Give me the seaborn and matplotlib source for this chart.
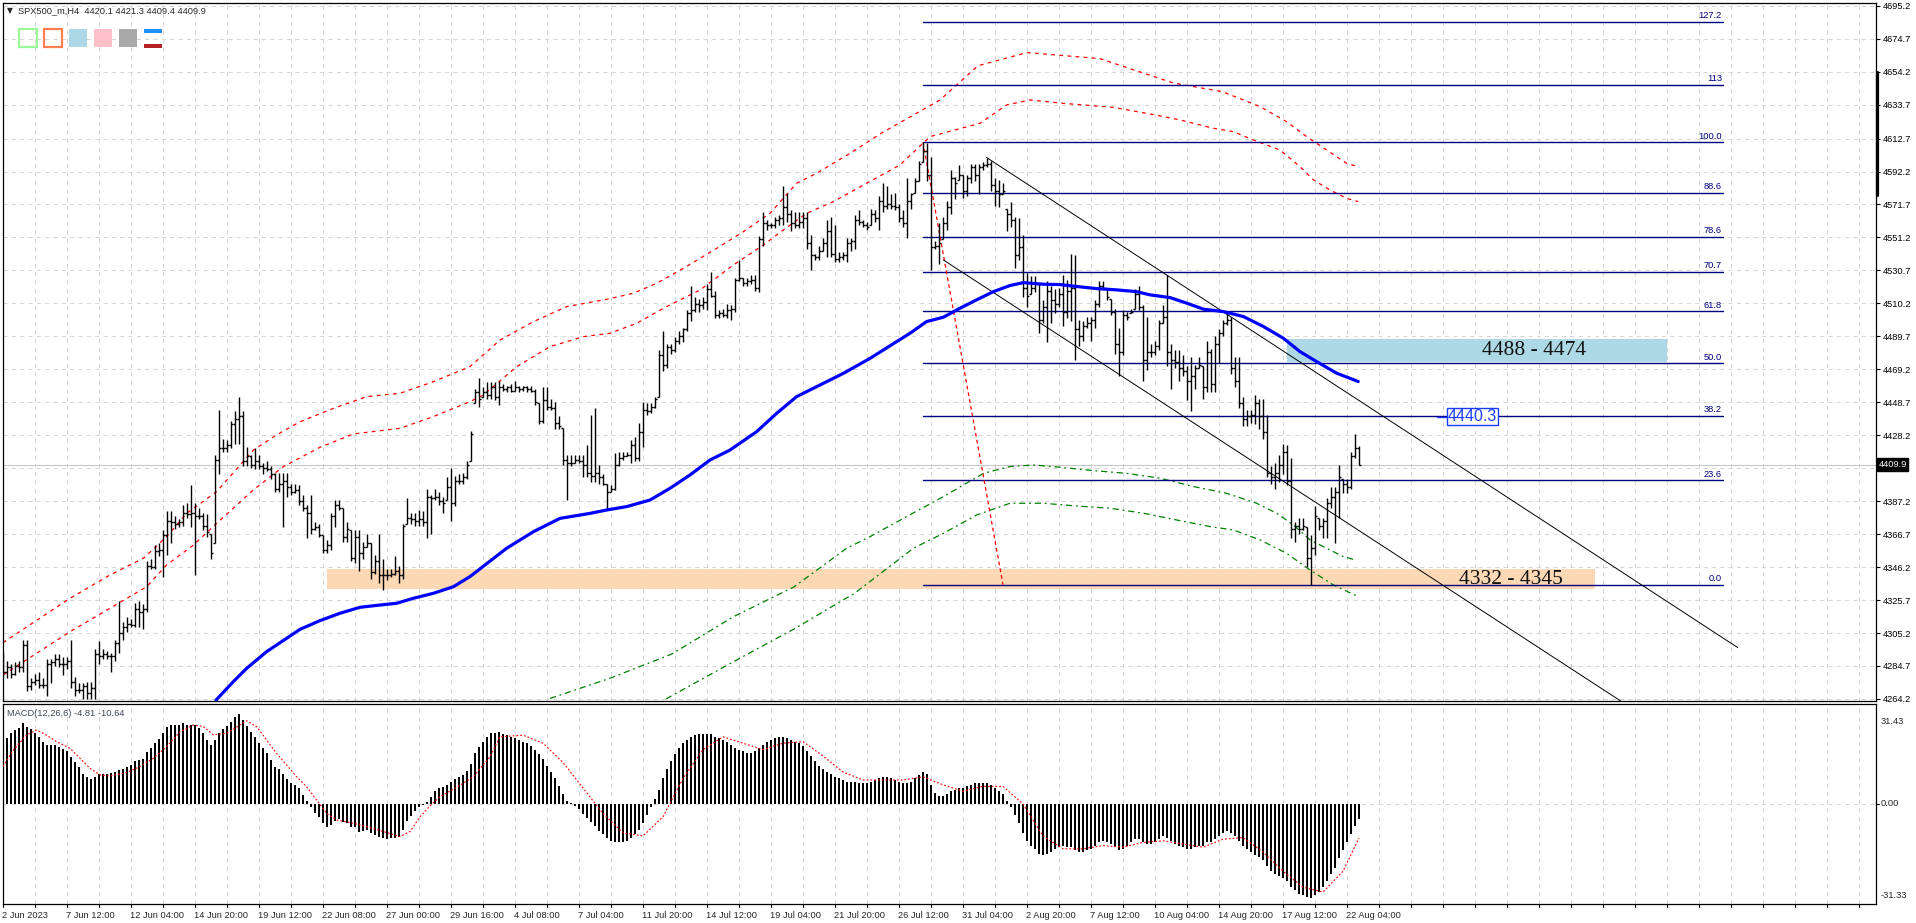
import numpy as np
import matplotlib
matplotlib.use("Agg")
import matplotlib.pyplot as plt
import seaborn as sns
from matplotlib.patches import Rectangle
from matplotlib.lines import Line2D

sns.set_style("white")
plt.rcParams['font.family'] = ['Liberation Sans', 'DejaVu Sans']

# ---------------- data ----------------
SYMBOL_TITLE = "SPX500_m,H4  4420.1 4421.3 4409.4 4409.9"
MACD_TITLE = "MACD(12,26,6) -4.81 -10.64"
CURRENT_PRICE = 4409.9
FIRST_OPEN = 4283

HIGHS = [4293, 4288, 4286, 4287, 4288, 4301, 4301, 4277, 4280, 4281,
 4277, 4289, 4289, 4292, 4292, 4290, 4290, 4301, 4278, 4274,
 4274, 4275, 4275, 4295, 4300, 4295, 4294, 4293, 4301, 4325,
 4312, 4315, 4314, 4324, 4325, 4323, 4350, 4351, 4360, 4361,
 4369, 4381, 4381, 4378, 4376, 4385, 4386, 4397, 4386, 4383,
 4380, 4379, 4367, 4416, 4444, 4426, 4425, 4437, 4443, 4452,
 4443, 4421, 4416, 4420, 4416, 4411, 4412, 4409, 4405, 4405,
 4405, 4405, 4398, 4398, 4397, 4391, 4385, 4391, 4374, 4373,
 4366, 4363, 4380, 4388, 4388, 4383, 4374, 4369, 4369, 4369,
 4362, 4367, 4361, 4354, 4367, 4351, 4345, 4345, 4353, 4347,
 4373, 4389, 4380, 4380, 4382, 4381, 4395, 4391, 4395, 4393,
 4390, 4402, 4408, 4403, 4404, 4405, 4412, 4431, 4457, 4464,
 4458, 4461, 4461, 4461, 4462, 4460, 4459, 4460, 4462, 4459,
 4459, 4459, 4459, 4457, 4448, 4458, 4458, 4451, 4449, 4440,
 4433, 4416, 4416, 4416, 4416, 4416, 4422, 4441, 4445, 4410,
 4404, 4398, 4397, 4417, 4418, 4418, 4418, 4425, 4427, 4436,
 4449, 4448, 4448, 4452, 4481, 4493, 4485, 4485, 4489, 4493,
 4495, 4506, 4521, 4514, 4513, 4514, 4522, 4530, 4518, 4506,
 4507, 4510, 4509, 4526, 4537, 4526, 4526, 4528, 4528, 4552,
 4567, 4562, 4560, 4564, 4565, 4583, 4579, 4568, 4567, 4567,
 4567, 4567, 4553, 4541, 4546, 4551, 4562, 4564, 4559, 4542,
 4542, 4551, 4551, 4565, 4568, 4562, 4561, 4569, 4568, 4577,
 4585, 4583, 4578, 4579, 4572, 4568, 4588, 4579, 4588, 4599,
 4610.5, 4610, 4601, 4549, 4560, 4564, 4574, 4593, 4589, 4596,
 4590, 4590, 4597, 4597, 4597, 4598, 4600.6, 4599, 4588, 4587,
 4585, 4569, 4573, 4564, 4563, 4553, 4529, 4527, 4527, 4522,
 4512, 4524, 4521, 4519, 4520, 4528, 4525, 4541, 4540, 4500,
 4499, 4502, 4502, 4512, 4524, 4524, 4520, 4513, 4507, 4495,
 4506, 4505, 4507, 4519, 4521, 4509, 4502, 4485, 4487, 4500,
 4509, 4528, 4485, 4481, 4481, 4478, 4471, 4477, 4472, 4477,
 4471, 4487, 4482, 4490, 4494, 4500, 4504, 4502, 4477, 4477,
 4452, 4444, 4444, 4453, 4451, 4451, 4441, 4409, 4411, 4416,
 4423, 4422, 4414, 4374, 4377, 4377, 4371, 4366, 4384, 4377,
 4377, 4389, 4396, 4396, 4410, 4401, 4401, 4418, 4429, 4421.3]

LOWS = [4278, 4277, 4277, 4279, 4281, 4281, 4269, 4270, 4273, 4271,
 4271, 4266, 4274, 4285, 4284, 4279, 4283, 4271, 4266, 4268,
 4264, 4264, 4264, 4264, 4286, 4289, 4289, 4281, 4288, 4293,
 4301, 4306, 4309, 4309, 4309, 4308, 4318, 4345, 4345, 4353,
 4340, 4354, 4361, 4370, 4371, 4372, 4377, 4371, 4341, 4376,
 4369, 4365, 4351, 4361, 4404, 4418, 4418, 4420, 4423, 4423,
 4409, 4409, 4408, 4407, 4407, 4404, 4406, 4401, 4393, 4393,
 4371, 4390, 4391, 4392, 4385, 4381, 4364, 4367, 4369, 4365,
 4355, 4355, 4357, 4371, 4382, 4362, 4362, 4350, 4349, 4344,
 4351, 4359, 4339, 4342, 4336, 4332, 4338, 4340, 4341, 4336,
 4339, 4373, 4373, 4372, 4372, 4372, 4364, 4367, 4388, 4385,
 4380, 4388, 4375, 4384, 4398, 4398, 4401, 4412, 4448, 4446,
 4452, 4451, 4451, 4450, 4447, 4456, 4455, 4455, 4456, 4455,
 4456, 4455, 4455, 4447, 4435, 4436, 4444, 4444, 4432, 4432,
 4410, 4388, 4409, 4411, 4411, 4402, 4402, 4399, 4399, 4398,
 4397, 4382, 4393, 4394, 4409, 4413, 4415, 4411, 4412, 4412,
 4421, 4441, 4442, 4445, 4452, 4468, 4470, 4479, 4480, 4485,
 4486, 4493, 4499, 4505, 4505, 4507, 4506, 4514, 4501, 4501,
 4502, 4501, 4500, 4505, 4524, 4521, 4521, 4522, 4518, 4517,
 4546, 4556, 4557, 4557, 4559, 4559, 4561, 4555, 4557, 4557,
 4557, 4544, 4531, 4537, 4537, 4543, 4539, 4539, 4536, 4536,
 4537, 4536, 4543, 4544, 4559, 4558, 4556, 4559, 4561, 4556,
 4567, 4569, 4569, 4568, 4561, 4558, 4551, 4569, 4579, 4586,
 4598, 4586, 4531, 4544, 4535, 4550, 4556, 4566, 4575, 4587,
 4576, 4577, 4585, 4586, 4578, 4593, 4595, 4580, 4571, 4570,
 4578, 4555, 4558, 4532, 4537, 4514, 4508, 4516, 4517, 4492,
 4498, 4486, 4498, 4504, 4508, 4496, 4501, 4499, 4475, 4484,
 4487, 4495, 4487, 4495, 4508, 4519, 4512, 4503, 4479, 4465,
 4478, 4500, 4504, 4507, 4506, 4462, 4469, 4477, 4478, 4481,
 4498, 4471, 4457, 4470, 4462, 4465, 4450, 4443, 4457, 4470,
 4451, 4455, 4455, 4455, 4473, 4490, 4497, 4466, 4458, 4445,
 4434, 4434, 4436, 4435, 4432, 4426, 4402, 4398, 4395, 4399,
 4404, 4397, 4364, 4362, 4367, 4369, 4346, 4335.2, 4354, 4369,
 4364, 4364, 4383, 4361, 4377, 4392, 4392, 4395, 4414, 4409.4]

CLOSES = [4281, 4284, 4280, 4285, 4284, 4298, 4272, 4275, 4276, 4273,
 4273, 4286, 4287, 4289, 4286, 4286, 4288, 4275, 4270, 4270,
 4272, 4268, 4271, 4292, 4291, 4292, 4291, 4291, 4299, 4305,
 4309, 4311, 4310, 4320, 4318, 4320, 4347, 4346, 4356, 4357,
 4366, 4375, 4374, 4373, 4374, 4380, 4379, 4380, 4378, 4378,
 4372, 4368, 4355, 4413, 4420, 4420, 4422, 4435, 4438, 4440,
 4412, 4415, 4410, 4412, 4409, 4408, 4407, 4404, 4395, 4398,
 4400, 4396, 4393, 4394, 4387, 4383, 4380, 4370, 4371, 4366,
 4357, 4360, 4378, 4385, 4383, 4365, 4370, 4352, 4365, 4355,
 4359, 4361, 4343, 4350, 4341, 4341, 4341, 4342, 4344, 4341,
 4372, 4377, 4376, 4375, 4376, 4374, 4390, 4389, 4390, 4387,
 4386, 4396, 4386, 4400, 4400, 4402, 4410, 4429, 4455, 4451,
 4455, 4453, 4458, 4452, 4458, 4457, 4458, 4456, 4458, 4457,
 4458, 4457, 4456, 4449, 4437, 4450, 4446, 4445, 4436, 4434,
 4413, 4411, 4411, 4413, 4412, 4410, 4405, 4403, 4405, 4402,
 4398, 4393, 4395, 4410, 4414, 4415, 4416, 4422, 4414, 4430,
 4444, 4443, 4446, 4451, 4478, 4472, 4483, 4481, 4487, 4490,
 4494, 4504, 4506, 4510, 4509, 4511, 4519, 4515, 4503, 4504,
 4503, 4506, 4507, 4525, 4526, 4523, 4524, 4525, 4520, 4550,
 4560, 4559, 4559, 4562, 4563, 4570, 4566, 4560, 4559, 4561,
 4563, 4548, 4540, 4539, 4543, 4548, 4555, 4541, 4538, 4539,
 4540, 4548, 4549, 4562, 4561, 4559, 4558, 4566, 4563, 4574,
 4571, 4572, 4571, 4570, 4563, 4560, 4574, 4578, 4586, 4597,
 4605, 4590, 4545, 4546, 4548, 4560, 4570, 4588, 4585, 4590,
 4580, 4588, 4595, 4590, 4595, 4596, 4597, 4584, 4580, 4578,
 4580, 4566, 4562, 4540, 4545, 4520, 4515, 4520, 4522, 4500,
 4508, 4518, 4512, 4510, 4516, 4505, 4518, 4520, 4494, 4490,
 4496, 4498, 4500, 4510, 4521, 4520, 4514, 4505, 4485, 4480,
 4503, 4502, 4505, 4516, 4508, 4475, 4480, 4480, 4484, 4498,
 4502, 4480, 4475, 4474, 4470, 4468, 4462, 4465, 4470, 4472,
 4458, 4480, 4460, 4485, 4492, 4498, 4500, 4470, 4462, 4448,
 4438, 4440, 4441, 4448, 4440, 4430, 4405, 4402, 4405, 4410,
 4418, 4400, 4370, 4372, 4370, 4372, 4352, 4358, 4378, 4372,
 4375, 4386, 4390, 4393, 4402, 4398, 4396, 4415, 4420.1, 4409.9]

MACD_HIST = [18.9, 20.5, 22.1, 23.1, 23.75, 25.4, 24.2, 23.3, 22.1, 20.8,
 19.5, 18.5, 18.5, 18.3, 17.9, 17.1, 16.7, 14.8, 13.2, 11.7,
 9.4, 8.3, 7.8, 8.5, 9.4, 9.4, 9.4, 9.6, 10.1, 10.6,
 10.9, 11.7, 12.2, 13.4, 13.75, 14.2, 16.4, 17.6, 19.2, 20.3,
 22.1, 24.0, 24.7, 24.7, 24.8, 25.2, 24.8, 24.6, 24.8, 23.6,
 22.3, 20.0, 18.4, 20.0, 22.3, 23.3, 24.4, 25.7, 27.3, 28.1,
 26.25, 24.4, 22.6, 20.8, 19.2, 17.4, 15.8, 13.75, 11.7, 10.8,
 9.4, 7.7, 6.7, 5.8, 4.9, 2.8, 0.9, -1.0, -2.7, -4.2,
 -5.8, -7.1, -6.6, -5.2, -4.8, -5.5, -6.0, -7.3, -7.3, -8.6,
 -8.3, -8.1, -9.2, -9.7, -10.2, -10.7, -11.0, -10.5, -10.7, -10.4,
 -8.1, -5.2, -3.75, -2.1, -1.0, -0.2, 0.7, 2.3, 4.2, 4.9,
 5.2, 5.9, 7.0, 7.7, 8.3, 9.1, 10.4, 12.5, 15.8, 17.9,
 19.5, 21.0, 22.3, 22.3, 22.5,
 22.0, 21.5, 21.0, 20.5, 20.0, 19.5, 19.0, 18.0, 17.0, 15.5,
 14.0, 12.0, 10.0, 8.0, 5.5, 3.0, 1.0, 0.3, -0.5, -1.5,
 -3.0, -4.5, -5.5, -7.0, -8.5, -9.5, -10.5, -11.5, -11.8, -12.0,
 -12.0, -11.5, -10.5, -9.5, -8.0, -6.0, -3.5, -1.0, 1.5, 4.5,
 8.0, 11.0, 13.5, 15.5, 17.5, 19.0, 20.0, 21.0, 21.5, 21.8,
 22.0, 22.0, 21.8, 21.0, 20.5, 20.0, 19.5, 18.5, 17.5, 17.0,
 16.5, 16.0, 16.0, 16.5, 17.5, 18.5, 19.5, 20.0, 20.5, 21.0,
 21.0, 20.5, 20.0, 19.5, 19.0, 18.0, 16.5, 15.0, 13.5, 12.0,
 11.0, 10.0, 9.5, 8.5, 8.0, 7.5, 7.0, 7.0, 7.0, 6.5,
 6.5, 6.5, 7.0, 7.5, 8.0, 8.5, 8.5, 8.0, 7.5, 7.0,
 6.5, 6.5, 7.0, 8.0, 9.0, 10.0, 9.5, 6.0, 3.5, 2.5,
 2.5, 3.0, 4.0, 4.5, 5.0, 5.0, 5.5, 6.0, 6.5, 6.5,
 6.5, 6.5, 6.0, 5.0, 4.0, 3.0, 1.0, -1.0, -3.5, -6.0,
 -9.0, -11.5, -13.0, -14.0, -15.5, -16.0, -15.5, -15.0, -14.0, -13.5,
 -13.0, -13.5, -13.5, -14.5, -15.0, -15.0, -14.5, -14.0, -13.0, -12.0,
 -11.5, -12.0, -12.5, -13.5, -14.5, -14.0, -13.0, -12.0, -11.0, -11.0,
 -12.0, -12.5, -12.5, -12.0, -11.0, -10.0, -10.5, -11.5, -12.5, -13.0,
 -13.5, -14.0, -14.0, -13.5, -13.0, -13.0, -12.0, -12.0, -11.0, -10.0,
 -9.0, -8.5, -9.0, -10.0, -11.5, -13.0, -14.0, -15.0, -16.0, -16.5,
 -17.5, -19.5, -21.0, -22.0, -22.5, -23.0, -24.0, -26.0, -27.0, -28.0,
 -28.5, -29.0, -29.5, -28.5, -27.5, -26.0, -24.0, -22.0, -20.0, -17.0,
 -14.5, -12.0, -9.5, -7.0, -4.81]

SIGNAL_BARS = [0, 2.6, 5.9, 8.4, 10.1, 13.4, 16.75, 19.25, 21.75, 24.25, 26.75, 30.9, 34.25, 37.6,
 40.9, 44.25, 47.6, 50.1, 52.6, 55.9, 59.25, 60.9, 63.4, 65.9, 68.4, 70.9, 73.4, 75.9, 78.4,
 80.9, 83.4, 87.6, 90.9, 95.1, 99.25, 101.75, 104.25, 106.75, 109.25, 113.4, 117.6, 121.75,
 124.25, 130, 135, 140, 145, 150, 155, 160, 165, 170, 175, 180, 185, 190, 195, 200, 205, 210,
 215, 220, 225, 230, 235, 240, 245, 250, 255, 260, 265, 270, 275, 280, 285, 290, 295, 300,
 305, 310, 315, 320, 325, 330, 335, 339]
SIGNAL_VALS = [11.7, 16.9, 21.6, 23.1, 22.1, 19.5, 17.4, 14.3, 11.15, 9.1, 8.75, 9.8, 11.7, 14.3,
 17.9, 22.6, 24.7, 24.2, 21.6, 22.1, 24.7, 26.0, 24.2, 20.0, 15.8, 12.2, 8.5, 5.4, 1.25,
 -2.9, -5.0, -6.0, -7.1, -8.6, -10.2, -8.6, -4.0, -0.6, 2.3, 5.2, 8.5, 14.8,
 21.0, 21.5, 19, 13, 5, -3, -9, -10, -4, 8, 17, 21, 19, 17, 19, 19.5, 15, 10,
 7.5, 7.5, 7.5, 8.5, 6, 4, 5.5, 5.5, 0, -10, -14, -14, -13, -13.5, -12, -11.5, -12.5, -13.5,
 -11, -10.5, -15, -21, -26, -27.5, -21, -10.64]

MA_BARS = [53.25, 57.6, 60.9, 65.9, 70.9, 74.25, 79.25, 84.25, 89.25, 94.25, 98.4, 102.6, 107.6,
 112.6, 116.75, 125.9, 132.6, 139.25, 146.75, 150.9, 155.9, 161.75, 166.75, 171.75, 176.75,
 181.75, 188.4, 193.4, 198.4, 203.4, 210.1, 216.75, 223.4, 226.75, 230.9, 235.1, 239.25,
 243.4, 247.6, 251.75, 255.1, 260.1, 264.25, 268.4, 273.4, 278.4, 283.4, 286.75, 291.75,
 296, 300.1, 305.1, 310.1, 315.1, 320.1, 324.25, 328.4, 333.4, 338.8]
MA_VALS = [4263.5, 4275.0, 4283.2, 4293.6, 4301.9, 4307.5, 4312.9, 4317.5, 4321.2, 4322.6, 4323.7,
 4326.8, 4329.9, 4334.0, 4340.3, 4357.9, 4368.2, 4376.5, 4379.6, 4381.7, 4383.8, 4387.9,
 4395.2, 4403.5, 4412.8, 4419.0, 4430.4, 4441.8, 4452.2, 4458.4, 4466.7, 4476.0, 4486.4,
 4491.6, 4498.9, 4501.6, 4507.2, 4512.4, 4517.5, 4521.3, 4523.1, 4522.1, 4521.9, 4520.7,
 4519.4, 4518.6, 4517.5, 4515.5, 4513.8, 4510.3, 4506.6, 4505.1, 4502.0, 4495.8, 4488.5,
 4480.2, 4474.0, 4466.8, 4461.6]

UPPER_OUTER_BARS = [0, 16.75, 26.75, 35.1, 40.9, 45.9, 53.4, 62.6, 68.4, 74.25, 82.6, 90.9, 99.25,
 107.6, 116.75, 124.25, 132.6, 140.9, 150.9, 157.6, 163.4, 170.1, 178.4, 185.1, 191.75,
 198.4, 203.4, 211.75, 220.1, 234.25, 243.75, 256, 274.25, 292.5, 304.75, 310.1, 314.25,
 320.9, 325.9, 330.9, 335.9, 338.8]
UPPER_OUTER_VALS = [4299.2, 4326.8, 4341.3, 4351.7, 4365.1, 4379.6, 4393.1, 4419.0, 4428.4, 4436.6,
 4444.9, 4452.2, 4454.3, 4461.5, 4470.9, 4487.4, 4498.8, 4508.2, 4512.7, 4516.5, 4522.7,
 4532.0, 4544.4, 4554.8, 4566.2, 4584.9, 4591.1, 4603.5, 4616.8, 4636.7, 4658.0, 4666.2,
 4662.4, 4647.3, 4641.9, 4636.7, 4632.6, 4623.2, 4613.9, 4605.6, 4597.3, 4595.2]

UPPER_INNER_BARS = [0, 16.75, 26.75, 35.9, 40.9, 47.6, 53.4, 62.6, 70.1, 79.25, 87.6, 99.25, 107.6,
 116.75, 120.1, 128.4, 136.75, 145.1, 151.75, 158.4, 165.9, 174.25, 182.6, 190.1, 195.1,
 200.9, 207.6, 215.9, 224.25, 231.75, 244.25, 250.9, 256.75, 265.1, 277.6, 285.9, 294.25,
 302.6, 307.6, 312.6, 319.25, 324.25, 327.6, 331.75, 335.9, 338.8]
UPPER_INNER_VALS = [4279.1, 4306.0, 4320.6, 4334.0, 4347.5, 4359.9, 4373.4, 4394.2, 4408.7, 4420.7,
 4429.0, 4432.5, 4439.8, 4449.1, 4453.2, 4470.8, 4483.3, 4489.5, 4491.6, 4497.8, 4508.2,
 4518.5, 4534.1, 4546.5, 4555.9, 4566.2, 4573.5, 4584.9, 4596.3, 4613.9, 4622.2, 4633.6,
 4636.7, 4634.6, 4632.1, 4628.4, 4624.3, 4619.1, 4617.0, 4611.8, 4605.6, 4595.2, 4587.0,
 4580.7, 4575.5, 4573.5]

LOWER_INNER_BARS = [136.75, 152, 167.25, 182.5, 197.75, 210.9, 216.75, 225.9, 235.1, 245.1, 251.75,
 257.6, 264.25, 272.6, 280.9, 289.25, 297.6, 305.9, 313.4, 318.4, 322.6, 326.75, 330.9, 335.1, 338]
LOWER_INNER_VALS = [4264.5, 4277.3, 4292.2, 4315.2, 4333.9, 4357.9, 4365.1, 4377.6, 4390.0, 4404.5,
 4408.7, 4409.7, 4408.3, 4406.2, 4404.5, 4401.5, 4396.3, 4392.1, 4385.9, 4379.7, 4372.4,
 4363.1, 4357.9, 4352.7, 4350.7]

LOWER_OUTER_BARS = [165.75, 182.5, 197.75, 213, 227.6, 235.1, 243.4, 251.75, 260.1, 268.4, 276.75,
 285.1, 293.4, 301.75, 307.6, 314.25, 320.9, 326.75, 332.6, 338.75]
LOWER_OUTER_VALS = [4264.2, 4287.2, 4307.7, 4330.1, 4357.9, 4367.2, 4378.6, 4385.9, 4385.9, 4384.2,
 4382.8, 4379.7, 4375.5, 4371.4, 4369.3, 4363.1, 4354.8, 4344.4, 4335.1, 4327.9]

# Fibonacci tool anchors (bar, price) and levels
FIB_BARS = [230, 250]
FIB_PRICES = [4610.5, 4335.2]
FIB_END_BAR = 430
FIB_LEVELS = [0.0, 23.6, 38.2, 50.0, 61.8, 70.7, 78.6, 88.6, 100.0, 113.0, 127.2]
FIB_LABELS = ["0.0", "23.6", "38.2", "50.0", "61.8", "70.7", "78.6", "88.6", "100.0", "113", "127.2"]

# channel trendlines (bar, price)
CHANNEL_UPPER_BARS = [245.9, 433.7]
CHANNEL_UPPER_PRICES = [4600.9, 4296.1]
CHANNEL_LOWER_BARS = [235.1, 405.0]
CHANNEL_LOWER_PRICES = [4537.2, 4262.0]

# zones: bar start, bar end, low, high
ZONE_SUPPORT = [81.1, 398.0, 4332.4, 4344.9]
ZONE_SUPPORT_TEXT = "4332 - 4345"
ZONE_RESIST = [320.9, 416.0, 4473.6, 4488.1]
ZONE_RESIST_TEXT = "4488 - 4474"
LEVEL_LABEL = "4440.3"
LEVEL_LABEL_PRICE = 4439.8

PRICE_TICKS = [4695.2, 4674.7, 4654.2, 4633.7, 4612.7, 4592.2, 4571.7, 4551.2, 4530.7, 4510.2,
 4489.7, 4469.2, 4448.7, 4428.2, 4387.2, 4366.7, 4346.2, 4325.7, 4305.2, 4284.7, 4264.2]
PRICE_GRID_EXTRA = [4407.7]
MACD_TICK_LABELS = ["31.43", "0.00", "-31.33"]

TIME_LABELS = ["2 Jun 2023", "7 Jun 12:00", "12 Jun 04:00", "14 Jun 20:00", "19 Jun 12:00",
 "22 Jun 08:00", "27 Jun 00:00", "29 Jun 16:00", "4 Jul 08:00", "7 Jul 04:00", "11 Jul 20:00",
 "14 Jul 12:00", "19 Jul 04:00", "21 Jul 20:00", "26 Jul 12:00", "31 Jul 04:00", "2 Aug 20:00",
 "7 Aug 12:00", "10 Aug 04:00", "14 Aug 20:00", "17 Aug 12:00", "22 Aug 04:00"]
TIME_LABEL_STEP = 16

# ---------------- layout (pixels) ----------------
W, H = 1916, 923
X0, X1 = 3, 1876
MAIN_T, MAIN_B = 3, 701
MACD_T, MACD_B = 704, 904
BAR_PX = 4.0

def fxp(px):
    return px / W

def fyp(py):
    return 1 - py / H

def bar_px(b):
    return X0 + BAR_PX * b

fig = plt.figure(figsize=(W / 100, H / 100), dpi=100)
fig.patch.set_facecolor("white")

ax = fig.add_axes([fxp(X0), fyp(MAIN_B), fxp(X1) - fxp(X0), fyp(MAIN_T) - fyp(MAIN_B)])
axm = fig.add_axes([fxp(X0), fyp(MACD_B), fxp(X1) - fxp(X0), fyp(MACD_T) - fyp(MACD_B)])

px_per_price = 1.608
y_top_price = 4695.2 + (5.9 - MAIN_T) / px_per_price
y_bot_price = y_top_price - (MAIN_B - MAIN_T) / px_per_price
xmax = (X1 - X0) / BAR_PX
for a in (ax, axm):
    a.set_xlim(0, xmax)
    for s in a.spines.values():
        s.set_color("black")
        s.set_linewidth(0.9)
ax.set_ylim(y_bot_price, y_top_price)
macd_k = 3.2
axm.set_ylim(-(MACD_B - 804) / macd_k, (804 - MACD_T) / macd_k)

grid_kw = dict(color="#D6D6D6", lw=0.75, ls=(0, (4, 4)), zorder=0)
for p in PRICE_TICKS + PRICE_GRID_EXTRA:
    ax.axhline(p, **grid_kw)
for b in range(8, int(xmax) + 1, 8):
    ax.axvline(b, **grid_kw)
    axm.axvline(b, **grid_kw)
axm.axhline(0, **grid_kw)

# bid line
ax.axhline(CURRENT_PRICE, color="#C8C8C8", lw=0.8, zorder=1)

# zones
for (b0, b1, lo, hi), col in ((ZONE_SUPPORT, "#FCD8B4"), (ZONE_RESIST, "#ADD8E6")):
    ax.add_patch(Rectangle((b0, lo), b1 - b0, hi - lo, facecolor=col, edgecolor="none", zorder=1))

# fib
fib_hi, fib_lo = FIB_PRICES
rng = fib_hi - fib_lo
for lev, lab in zip(FIB_LEVELS, FIB_LABELS):
    p = fib_lo + rng * lev / 100.0
    ax.plot([FIB_BARS[0], FIB_END_BAR], [p, p], color="#000080", lw=1.0, zorder=3)
    ax.text(FIB_END_BAR - 0.3, p + 0.9, lab, ha="right", va="bottom", fontsize=6.7,
            color="#000080", zorder=6)
ax.plot(FIB_BARS, FIB_PRICES, color="red", lw=0.9, ls=(0, (3, 2.5)), zorder=3)

# channel
ax.plot(CHANNEL_UPPER_BARS, CHANNEL_UPPER_PRICES, color="black", lw=0.7, zorder=3)
ax.plot(CHANNEL_LOWER_BARS, CHANNEL_LOWER_PRICES, color="black", lw=0.7, zorder=3)

# envelopes / bands
sns.lineplot(x=UPPER_OUTER_BARS, y=UPPER_OUTER_VALS, ax=ax, color="red", lw=0.9,
             linestyle=(0, (3, 3.5)), sort=False, estimator=None, zorder=2)
sns.lineplot(x=UPPER_INNER_BARS, y=UPPER_INNER_VALS, ax=ax, color="red", lw=0.9,
             linestyle=(0, (3, 3.5)), sort=False, estimator=None, zorder=2)
sns.lineplot(x=LOWER_INNER_BARS, y=LOWER_INNER_VALS, ax=ax, color="green", lw=0.9,
             linestyle=(0, (5, 3, 1.5, 3)), sort=False, estimator=None, zorder=2)
sns.lineplot(x=LOWER_OUTER_BARS, y=LOWER_OUTER_VALS, ax=ax, color="green", lw=0.9,
             linestyle=(0, (5, 3, 1.5, 3)), sort=False, estimator=None, zorder=2)
# moving average
sns.lineplot(x=MA_BARS, y=MA_VALS, ax=ax, color="#0000FF", lw=2.3, sort=False,
             estimator=None, zorder=5)

# OHLC bars
hi = np.array(HIGHS, float)
lo = np.array(LOWS, float)
cl = np.clip(np.array(CLOSES, float), lo, hi)
op = np.clip(np.r_[FIRST_OPEN, cl[:-1]], lo, hi)
idx = np.arange(len(cl))
ax.vlines(idx, lo, hi, color="black", lw=1.0, zorder=4)
ax.hlines(op, idx - 0.42, idx, color="black", lw=1.0, zorder=4)
ax.hlines(cl, idx, idx + 0.42, color="black", lw=1.0, zorder=4)

# zone texts
ax.text(382.75, (ZONE_RESIST[2] + ZONE_RESIST[3]) / 2, ZONE_RESIST_TEXT, ha="center",
        va="center", fontsize=15.5, family="Liberation Serif", color="#111111", zorder=6)
ax.text(377.0, (ZONE_SUPPORT[2] + ZONE_SUPPORT[3]) / 2, ZONE_SUPPORT_TEXT, ha="center",
        va="center", fontsize=15.5, family="Liberation Serif", color="#111111", zorder=6)
ax.plot([358.5, 361.0], [LEVEL_LABEL_PRICE, LEVEL_LABEL_PRICE], color="#1A3CFF", lw=1.0, zorder=6)
ax.text(361.2, LEVEL_LABEL_PRICE, LEVEL_LABEL, ha="left", va="center", fontsize=11.5,
        color="#1A3CFF", zorder=7,
        bbox=dict(boxstyle="square,pad=0.08", facecolor="white", edgecolor="#1A3CFF", lw=1.0))

# price axis
ax.set_xticks([])
ax.yaxis.tick_right()
ax.set_yticks(PRICE_TICKS)
ax.set_yticklabels([f"{p:.1f}" for p in PRICE_TICKS])
ax.tick_params(axis="y", length=3, width=0.8, pad=2, labelsize=6.7, colors="black")
ax.text(1.0013, CURRENT_PRICE, f"{CURRENT_PRICE:.1f}", transform=ax.get_yaxis_transform(),
        ha="left", va="center", fontsize=6.7, color="white", zorder=10,
        bbox=dict(boxstyle="square,pad=0.18", facecolor="black", edgecolor="black"))
fig.add_artist(Line2D([fxp(1876.5)] * 2, [fyp(72), fyp(195)], lw=2.3, color="black"))

# MACD panel
axm.bar(idx, MACD_HIST, width=0.72, color="black", linewidth=0, antialiased=False, zorder=3)
sns.lineplot(x=SIGNAL_BARS, y=SIGNAL_VALS, ax=axm, color="red", lw=0.8,
             linestyle=(0, (1.6, 1.8)), sort=False, estimator=None, zorder=4)
axm.set_xticks([])
axm.set_yticks([])
for lab, py in zip(MACD_TICK_LABELS, (721, 804, 895)):
    fig.text(fxp(1881), fyp(py), lab, ha="left", va="center", fontsize=6.7)
fig.add_artist(Line2D([fxp(1876), fxp(1879)], [fyp(804)] * 2, lw=0.8, color="black"))

# time axis
for k, lab in enumerate(TIME_LABELS):
    bx = bar_px(k * TIME_LABEL_STEP)
    fig.text(fxp(bx - 0.5), fyp(915.5), lab, ha="left", va="center", fontsize=6.7)
for b in range(0, int(xmax) + 1, 8):
    x = fxp(bar_px(b))
    fig.add_artist(Line2D([x, x], [fyp(MACD_B), fyp(MACD_B + 3)], lw=0.8, color="black"))

# headers
fig.text(fxp(7), fyp(10.5), "\u25BC", ha="left", va="center", fontsize=5.5,
         family="DejaVu Sans")
fig.text(fxp(18), fyp(10.5), SYMBOL_TITLE, ha="left", va="center", fontsize=6.7)
fig.text(fxp(7), fyp(714), MACD_TITLE, ha="left", va="center", fontsize=6.7, color="#3C4654")

def fig_rect(x0, y0, x1, y1, **kw):
    fig.add_artist(Rectangle((fxp(x0), fyp(y1)), fxp(x1) - fxp(x0), fyp(y0) - fyp(y1),
                             transform=fig.transFigure, **kw))

fig_rect(19, 29, 36.5, 46.5, facecolor="none", edgecolor="#98FB98", lw=1.6)
fig_rect(44, 29, 61.5, 46.5, facecolor="none", edgecolor="#FF7F50", lw=1.6)
fig_rect(69, 29, 87, 47, facecolor="#ADD8E6", edgecolor="none")
fig_rect(94, 29, 112, 47, facecolor="#FFC0CB", edgecolor="none")
fig_rect(119, 29, 137, 47, facecolor="#A9A9A9", edgecolor="none")
fig_rect(144, 29, 162, 33, facecolor="#1E90FF", edgecolor="none")
fig_rect(144, 43.5, 162, 47.5, facecolor="#B22222", edgecolor="none")

fig.savefig("out.png", dpi=100, facecolor="white")
